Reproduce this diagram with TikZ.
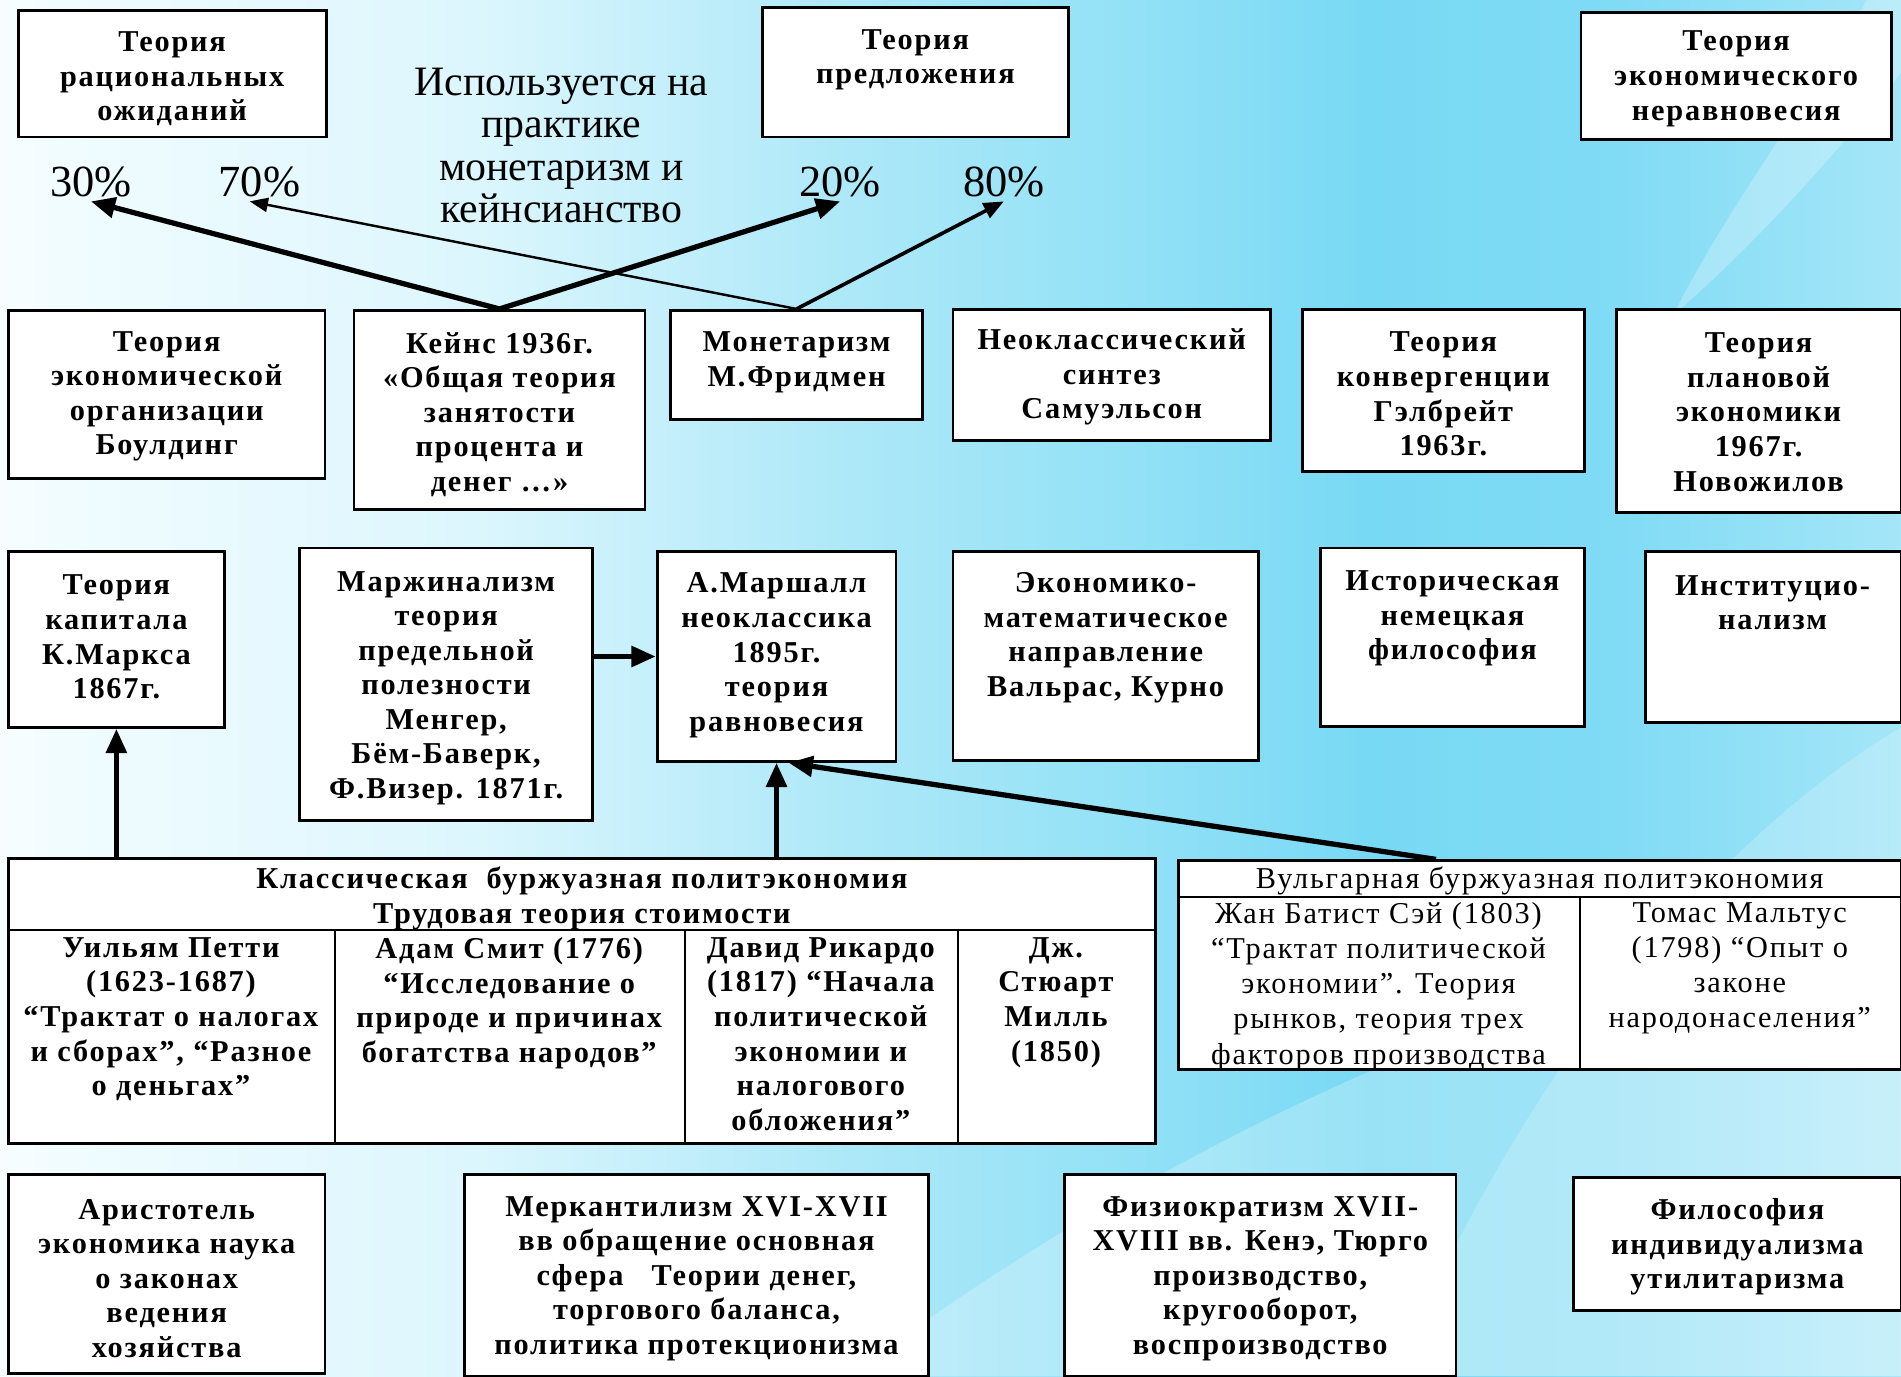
\documentclass[tikz,border=0pt]{standalone}
\usepackage{fontspec}
\setmainfont{Liberation Serif}
\newfontfamily\bxfont{Liberation Serif}[LetterSpace=6]
\usetikzlibrary{arrows.meta,fit,calc}
\definecolor{bga}{HTML}{F4FDFF}
\definecolor{bgb}{HTML}{DCF6FD}
\definecolor{bgc}{HTML}{ACE8F8}
\definecolor{bgd}{HTML}{92E1F6}
\definecolor{bge}{HTML}{78D9F4}
\definecolor{bgf}{HTML}{80DBF5}
\definecolor{bgg}{HTML}{A5E6F8}
\pgfdeclarehorizontalshading{bgshade}{100bp}{color(0bp)=(bga); color(25bp)=(bga); color(37.5bp)=(bgb); color(47.5bp)=(bgc); color(55bp)=(bgd); color(61bp)=(bge); color(67.5bp)=(bgf); color(75bp)=(bgg); color(100bp)=(bgg)}
\tikzset{
  box/.style={draw=black, line width=1.4pt, fill=white, inner sep=0pt},
  btxt/.style={inner sep=0pt, align=center, font=\bxfont\bfseries\fontsize{15}{17.1}\selectfont},
  vtxt/.style={inner sep=0pt, align=center, font=\bxfont\fontsize{15}{17.4}\selectfont},
  bigtxt/.style={inner sep=0pt, align=center, font=\fontsize{20.7}{21}\selectfont},
  pct/.style={inner sep=2pt, font=\fontsize{22}{24}\selectfont},
  arrK/.style={line width=2.6pt, -{Triangle[length=12pt,width=10pt]}},
  arrM/.style={line width=1.8pt, -{Triangle[length=10pt,width=8pt]}},
  arrT/.style={line width=1.2pt, -{Triangle[length=9pt,width=7pt]}},
  rule/.style={line width=1.1pt}
}
\begin{document}
\begin{tikzpicture}[x=0.6pt,y=-0.6pt]
\useasboundingbox (0,0) rectangle (1568,1135);
% background
\shade[shading=bgshade] (0,0) rectangle (1568,1135);
\fill[white, opacity=0.25] (700,1135) .. controls (950,950) and (1250,800) .. (1568,760) -- (1568,1135) -- cycle;
\fill[white, opacity=0.2] (1150,1135) .. controls (1250,900) and (1400,700) .. (1568,600) -- (1568,1135) -- cycle;
\fill[white, opacity=0.25] (1380,260) .. controls (1450,200) and (1520,120) .. (1568,60) -- (1568,0) -- (1540,0) .. controls (1480,100) and (1420,180) .. (1380,260) -- cycle;
\fill[white, opacity=0.3] (0,0) rectangle (40,1135);

% top row
\node[box, fit={(15,9) (269,113)}] (r1) {};
\node[btxt] (r1t) at (142,65) {Теория\\рациональных\\ожиданий};
\node[box, fit={(629,6) (881,113)}] (r2) {};
\node[btxt] (r2t) at (755,49.5) {Теория\\предложения};
\node[box, fit={(1304,10) (1560,115)}] (r3) {};
\node[btxt] (r3t) at (1432,65) {Теория\\экономического\\неравновесия};
\node[bigtxt] (usage) at (463,120) {Используется на\\практике\\монетаризм и\\кейнсианство};
\node[pct] (p30) at (75,150) {30\%};
\node[pct] (p70) at (214,150) {70\%};
\node[pct] (p20) at (693,150) {20\%};
\node[pct] (p80) at (828,150) {80\%};

% second row
\node[box, fit={(7,256) (268,395)}] (b1) {};
\node[btxt] (b1t) at (137.5,327) {Теория\\экономической\\организации\\Боулдинг};
\node[box, fit={(292,256) (532,420)}] (b2) {};
\node[btxt] (b2t) at (412,342) {Кейнс 1936г.\\«Общая теория\\занятости\\процента и\\денег …»};
\node[box, fit={(553,256) (761,346)}] (b3) {};
\node[btxt] (b3t) at (657,299) {Монетаризм\\М.Фридмен};
\node[box, fit={(786,255) (1048,363)}] (b4) {};
\node[btxt] (b4t) at (917,311) {Неоклассический\\синтез\\Самуэльсон};
\node[box, fit={(1074,255) (1307,389)}] (b5) {};
\node[btxt] (b5t) at (1190.5,325) {Теория\\конвергенции\\Гэлбрейт\\1963г.};
\node[box, fit={(1333,255) (1568,423)}] (b6) {};
\node[btxt] (b6t) at (1450.5,340) {Теория\\плановой\\экономики\\1967г.\\Новожилов};

% third row
\node[box, fit={(7,455) (185,600)}] (c1) {};
\node[btxt] (c1t) at (96,525.5) {Теория\\капитала\\К.Маркса\\1867г.};
\node[box, fit={(247,452) (489,677)}] (c2) {};
\node[btxt] (c2t) at (368,567.5) {Маржинализм\\теория\\предельной\\полезности\\Менгер,\\Бём-Баверк,\\Ф.Визер. 1871г.};
\node[box, fit={(542,455) (739,628)}] (c3) {};
\node[btxt] (c3t) at (640.5,540.5) {А.Маршалл\\неоклассика\\1895г.\\теория\\равновесия};
\node[box, fit={(786,455) (1038,627)}] (c4) {};
\node[btxt] (c4t) at (912,526) {Экономико-\\математическое\\направление\\Вальрас, Курно};
\node[box, fit={(1089,452) (1307,599)}] (c5) {};
\node[btxt] (c5t) at (1198,510) {Историческая\\немецкая\\философия};
\node[box, fit={(1357,455) (1568,596)}] (c6) {};
\node[btxt] (c6t) at (1462,497) {Институцио-\\нализм};

% classical table
\node[box, fit={(7,708) (953,943)}] (classic) {};
\draw[rule] (7,767) -- (953,767);
\draw[rule] (276,767) -- (276,943);
\draw[rule] (565,767) -- (565,943);
\draw[rule] (790,767) -- (790,943);
\node[btxt] (clh) at (480,741) {Классическая\ \ буржуазная политэкономия\\Трудовая теория стоимости};
\node[btxt, anchor=north] (cl1) at (141,773) {Уильям Петти\\(1623-1687)\\“Трактат о налогах\\и сборах”, “Разное\\о деньгах”};
\node[btxt, anchor=north] (cl2) at (420,773) {Адам Смит (1776)\\“Исследование о\\природе и причинах\\богатства народов”};
\node[btxt, anchor=north] (cl3) at (677,773) {Давид Рикардо\\(1817) “Начала\\политической\\экономии и\\налогового\\обложения”};
\node[btxt, anchor=north] (cl4) at (871,773) {Дж.\\Стюарт\\Милль\\(1850)};

% vulgar table
\node[box, fit={(972,710) (1568,882)}] (vul) {};
\draw[rule] (972,740) -- (1568,740);
\draw[rule] (1303,740) -- (1303,882);
\node[vtxt] (vuh) at (1270,727) {Вульгарная буржуазная политэкономия};
\node[vtxt, anchor=north] (vu1) at (1137,744) {Жан Батист Сэй (1803)\\“Трактат политической\\экономии”. Теория\\рынков, теория трех\\факторов производства};
\node[vtxt, anchor=north] (vu2) at (1435,744) {Томас Мальтус\\(1798) “Опыт о\\законе\\народонаселения”};

% bottom row
\node[box, fit={(7,969) (268,1133)}] (d1) {};
\node[btxt] (d1t) at (137.5,1054.5) {Аристотель\\экономика наука\\о законах\\ведения\\хозяйства};
\node[box, fit={(383,969) (766,1135)}] (d2) {};
\node[btxt] (d2t) at (574.5,1054.5) {Меркантилизм XVI-XVII\\вв обращение основная\\сфера\ \ \ Теории денег,\\торгового баланса,\\политика протекционизма};
\node[box, fit={(878,969) (1201,1135)}] (d3) {};
\node[btxt] (d3t) at (1039.5,1054.5) {Физиократизм XVII-\\XVIII вв. Кенэ, Тюрго\\производство,\\кругооборот,\\воспроизводство};
\node[box, fit={(1298,971) (1568,1081)}] (d4) {};
\node[btxt] (d4t) at (1433,1028.5) {Философия\\индивидуализма\\утилитаризма};

% arrows
\draw[arrK] (b2.north) -- (p30.south);
\draw[arrK] (b2.north) -- (p20.south);
\draw[arrT] (b3.north) -- ($(p70.south)+(-8,0)$);
\draw[arrM] (b3.north) -- (p80.south);
\draw[arrK] (c2.east |- c3.west) -- (c3.west);
\draw[arrK] (classic.north -| c1.south) -- (c1.south);
\draw[arrK] (classic.north -| c3.south) -- (c3.south);
\draw[arrK] ($(vul.north west)!0.357!(vul.north east)$) -- ($(c3.south)+(10,0)$);
\end{tikzpicture}
\end{document}
